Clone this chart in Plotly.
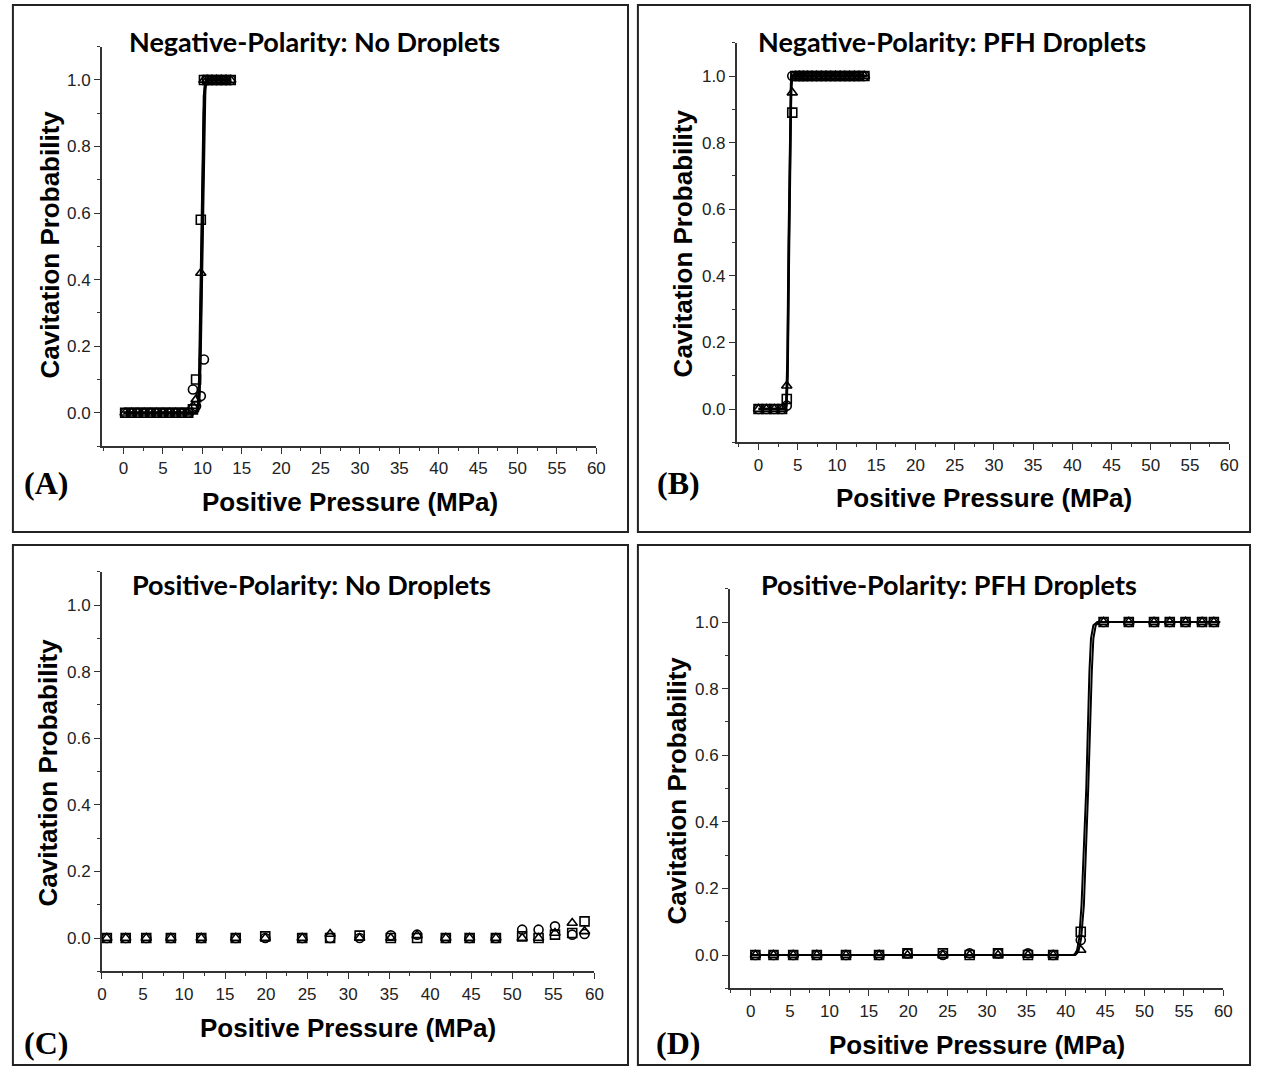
import plotly.graph_objects as go

W, H = 1262, 1068

# ---------------- data ----------------
# Panel A: Negative polarity, no droplets
A_x = [0.2, 1.0, 1.8, 2.6, 3.4, 4.2, 5.0, 5.8, 6.6, 7.4, 8.2, 8.8, 9.2, 9.8, 10.2, 10.6, 11.2, 11.8, 12.4, 13.0, 13.6]
A_sq = [0, 0, 0, 0, 0, 0, 0, 0, 0, 0, 0, 0.01, 0.10, 0.58, 1.0, 1.0, 1.0, 1.0, 1.0, 1.0, 1.0]
A_ci = [0, 0, 0, 0, 0, 0, 0, 0, 0, 0, 0, 0.07, 0.02, 0.05, 0.16, 1.0, 1.0, 1.0, 1.0, 1.0, 1.0]
A_tr = [0, 0, 0, 0, 0, 0, 0, 0, 0, 0, 0, 0.02, 0.04, 0.42, 1.0, 1.0, 1.0, 1.0, 1.0, 1.0, 1.0]
FA_x = [0.0, 9.2, 9.45, 9.6, 9.75, 9.9, 10.05, 10.2, 10.35, 10.5, 13.6]
FA_sq = [0, 0, 0.02, 0.10, 0.32, 0.58, 0.82, 0.95, 0.99, 1.0, 1.0]
FA_tr = [0, 0, 0.01, 0.06, 0.22, 0.45, 0.72, 0.90, 0.98, 1.0, 1.0]
FA_ci = [0, 0, 0.005, 0.04, 0.15, 0.35, 0.60, 0.85, 0.97, 1.0, 1.0]

# Panel B: Negative polarity, PFH droplets
B_x = [0, 1, 2, 3, 3.6, 4.3, 4.7, 5.2, 5.7, 6.2, 6.8, 7.4, 8.0, 8.6, 9.2, 9.8, 10.4, 11.0, 11.6, 12.2, 12.8, 13.5]
B_sq = [0, 0, 0, 0, 0.03, 0.89, 1.0, 1.0, 1.0, 1.0, 1.0, 1.0, 1.0, 1.0, 1.0, 1.0, 1.0, 1.0, 1.0, 1.0, 1.0, 1.0]
B_ci = [0, 0, 0, 0, 0.01, 1.0, 1.0, 1.0, 1.0, 1.0, 1.0, 1.0, 1.0, 1.0, 1.0, 1.0, 1.0, 1.0, 1.0, 1.0, 1.0, 1.0]
B_tr = [0, 0, 0, 0, 0.07, 0.95, 1.0, 1.0, 1.0, 1.0, 1.0, 1.0, 1.0, 1.0, 1.0, 1.0, 1.0, 1.0, 1.0, 1.0, 1.0, 1.0]
FB_x = [0.0, 3.4, 3.55, 3.7, 3.85, 4.0, 4.15, 4.3, 13.8]
FB_y1 = [0, 0, 0.02, 0.15, 0.50, 0.85, 0.98, 1.0, 1.0]
FB_y2 = [0, 0, 0.01, 0.10, 0.42, 0.80, 0.96, 1.0, 1.0]

# Panels C & D share the pressure steps
P_x = [0.6, 2.9, 5.4, 8.4, 12.1, 16.3, 19.9, 24.4, 27.8, 31.4, 35.2, 38.4, 41.9, 44.8, 48.0, 51.2, 53.2, 55.2, 57.3, 58.8]
C_sq = [0, 0, 0, 0, 0, 0, 0.005, 0, 0, 0.007, 0, 0, 0, 0, 0, 0.005, 0.0, 0.01, 0.015, 0.05]
C_ci = [0, 0, 0, 0, 0, 0, 0, 0, 0, 0, 0.008, 0.01, 0, 0, 0, 0.025, 0.025, 0.035, 0.01, 0.012]
C_tr = [0, 0, 0, 0, 0, 0, 0, 0, 0.012, 0, 0, 0.008, 0, 0, 0, 0, 0, 0.015, 0.045, 0.02]

D_sq = [0, 0, 0, 0, 0, 0, 0.005, 0.005, 0, 0.005, 0, 0, 0.07, 1.0, 1.0, 1.0, 1.0, 1.0, 1.0, 1.0]
D_ci = [0, 0, 0, 0, 0, 0, 0.005, 0, 0.005, 0.005, 0.005, 0.0, 0.045, 1.0, 1.0, 1.0, 1.0, 1.0, 1.0, 1.0]
D_tr = [0, 0, 0, 0, 0, 0, 0, 0, 0, 0, 0, 0, 0.015, 1.0, 1.0, 1.0, 1.0, 1.0, 1.0, 1.0]
FD_x1 = [0.1, 41.0, 41.4, 41.7, 42.0, 42.6, 43.0, 43.2, 43.5, 44.0, 59.6]
FD_x2 = [0.1, 41.2, 41.6, 41.95, 42.3, 42.85, 43.3, 43.5, 43.8, 44.3, 59.6]
FD_y = [0, 0, 0.01, 0.05, 0.15, 0.50, 0.85, 0.95, 0.99, 1.0, 1.0]

titles = ["Negative-Polarity: No Droplets", "Negative-Polarity: PFH Droplets",
          "Positive-Polarity: No Droplets", "Positive-Polarity: PFH Droplets"]
letters = ["(A)", "(B)", "(C)", "(D)"]
xtitle = "Positive Pressure (MPa)"
ytitle = "Cavitation Probability"
xticks = list(range(0, 65, 5))
yticks = [0.0, 0.2, 0.4, 0.6, 0.8, 1.0]

# ---------------- layout helpers ----------------
def px(x):
    return x / W

def py(y):
    return 1 - y / H

# panel geometry (pixels): x-domain, y-domain(bottom, top), x-range
panels = [
    dict(xd=(98, 598), yd=(446, 46.7), xr=(-2.75, 60)),
    dict(xd=(740, 1238), yd=(442.3, 42.7), xr=(-2.77, 60)),
    dict(xd=(98, 596), yd=(971.3, 571.7), xr=(0, 60)),
    dict(xd=(733, 1232), yd=(988.3, 588.7), xr=(-2.64, 60)),
]
borders = [(8, 5, 630, 532), (640, 5, 1259, 532), (8, 545, 630, 1065), (640, 545, 1259, 1065)]
title_pos = [(313, 42), (958, 42), (310, 584), (955, 584)]
xtitle_pos = [(349, 502), (990, 498), (347, 1028), (983, 1045)]
ytitle_pos = [(45, 245), (686, 243), (43, 773), (680, 790)]
letter_pos = [(41, 483), (681, 483), (41, 1043), (681, 1043)]

fig = go.Figure()

mk = dict(color="black", size=9, line=dict(width=1.6, color="black"))

def add_points(i, x, ys):
    ax = "" if i == 0 else str(i + 1)
    for y, sym in zip(ys, ["square-open", "circle-open", "triangle-up-open"]):
        fig.add_trace(go.Scatter(x=x, y=y, mode="markers", xaxis="x" + ax, yaxis="y" + ax,
                                 marker=dict(symbol=sym, **mk), showlegend=False, cliponaxis=False))

def add_line(i, x, y, w=2.5):
    ax = "" if i == 0 else str(i + 1)
    fig.add_trace(go.Scatter(x=x, y=y, mode="lines", xaxis="x" + ax, yaxis="y" + ax,
                             line=dict(color="black", width=w), showlegend=False))

# Panel A
for fy in (FA_sq, FA_tr, FA_ci):
    add_line(0, FA_x, fy)
add_points(0, A_x, (A_sq, A_ci, A_tr))
# Panel B
add_line(1, FB_x, FB_y1)
add_line(1, FB_x, FB_y2)
add_points(1, B_x, (B_sq, B_ci, B_tr))
# Panel C
add_points(2, P_x, (C_sq, C_ci, C_tr))
# Panel D
add_line(3, FD_x1, FD_y, 2)
add_line(3, FD_x2, FD_y, 2)
add_points(3, P_x, (D_sq, D_ci, D_tr))

axcol = "#333333"
tickfont = dict(family="Liberation Sans, Arial", size=17, color="#222222")
layout = dict(width=W, height=H, margin=dict(l=0, r=0, t=0, b=0),
              paper_bgcolor="white", plot_bgcolor="white", showlegend=False)

for i, p in enumerate(panels):
    ax = "" if i == 0 else str(i + 1)
    layout["xaxis" + ax] = dict(
        domain=[px(p["xd"][0]), px(p["xd"][1])], range=list(p["xr"]), anchor="y" + ax,
        showgrid=False, zeroline=False, showline=True, linecolor=axcol, linewidth=1.6,
        ticks="outside", ticklen=6, tickwidth=1.4, tickcolor=axcol,
        tickvals=xticks, ticktext=[str(t) for t in xticks], tickfont=tickfont,
        minor=dict(ticks="outside", ticklen=3, tickwidth=1.2, tickcolor=axcol, dtick=2.5, tick0=0, showgrid=False),
        fixedrange=True)
    layout["yaxis" + ax] = dict(
        domain=[py(p["yd"][0]), py(p["yd"][1])], range=[-0.1, 1.1], anchor="x" + ax,
        showgrid=False, zeroline=False, showline=True, linecolor=axcol, linewidth=1.6,
        ticks="outside", ticklen=6, tickwidth=1.4, tickcolor=axcol,
        tickvals=yticks, ticktext=[f"{t:.1f}" for t in yticks], tickfont=tickfont,
        minor=dict(ticks="outside", ticklen=3, tickwidth=1.2, tickcolor=axcol, dtick=0.1, tick0=0, showgrid=False),
        fixedrange=True)

shapes = []
for (x0, y0, x1, y1) in borders:
    shapes.append(dict(type="rect", xref="paper", yref="paper", x0=px(x0), x1=px(x1), y0=py(y1), y1=py(y0),
                       line=dict(color="#222222", width=2), fillcolor="rgba(0,0,0,0)"))
layout["shapes"] = shapes

ann = []
for i in range(4):
    tx, ty = title_pos[i]
    ann.append(dict(text="<b>" + titles[i] + "</b>", x=px(tx), y=py(ty), xref="paper", yref="paper",
                    showarrow=False, xanchor="center", yanchor="middle",
                    font=dict(family="Lato, Open Sans", size=27, color="black")))
    tx, ty = xtitle_pos[i]
    ann.append(dict(text="<b>" + xtitle + "</b>", x=px(tx), y=py(ty), xref="paper", yref="paper",
                    showarrow=False, xanchor="center", yanchor="middle",
                    font=dict(family="Liberation Sans, Arial", size=26, color="black")))
    tx, ty = ytitle_pos[i]
    ann.append(dict(text="<b>" + ytitle + "</b>", x=px(tx), y=py(ty), xref="paper", yref="paper",
                    showarrow=False, xanchor="center", yanchor="middle", textangle=-90,
                    font=dict(family="Liberation Sans, Arial", size=26, color="black")))
    tx, ty = letter_pos[i]
    ann.append(dict(text="<b>" + letters[i] + "</b>", x=px(tx), y=py(ty), xref="paper", yref="paper",
                    showarrow=False, xanchor="center", yanchor="middle",
                    font=dict(family="Liberation Serif, Times New Roman", size=32, color="black")))
layout["annotations"] = ann

fig.update_layout(**layout)
fig.write_html("out.html", config={"displayModeBar": False},
               post_script="document.body.style.margin='0';document.body.style.overflow='hidden';")
